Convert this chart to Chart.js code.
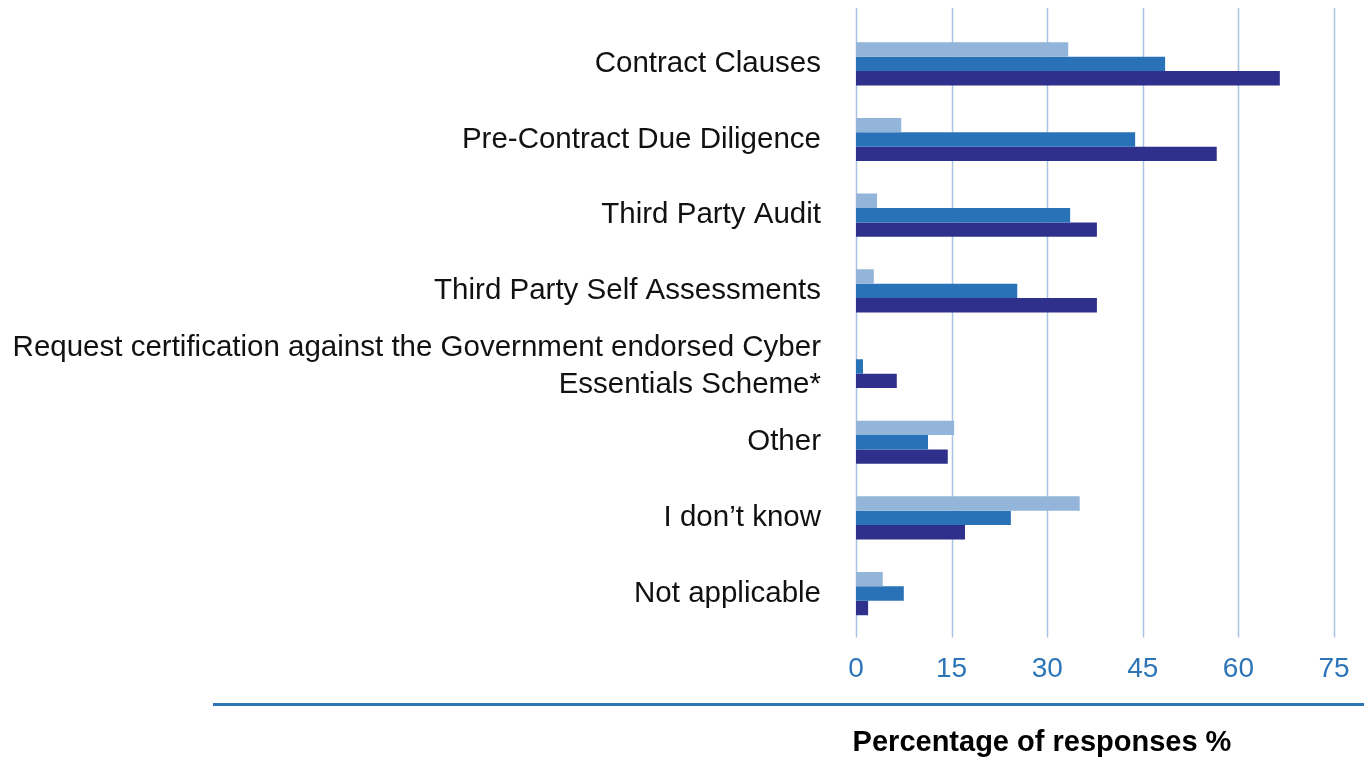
<!DOCTYPE html>
<html>
<head>
<meta charset="utf-8">
<script src="https://cdn.jsdelivr.net/npm/chart.js@4.4.1/dist/chart.umd.min.js"></script>
<style>
  html, body { margin: 0; padding: 0; background: #fff; }
  #wrap { width: 1364px; height: 758px; position: relative; }
</style>
</head>
<body>
<div id="wrap"><canvas id="chart"></canvas></div>
<script>
// ── Data ──────────────────────────────────────────────────────────────────────

const categories = [
  'Contract Clauses',
  'Pre-Contract Due Diligence',
  'Third Party Audit',
  'Third Party Self Assessments',
  ['Request certification against the Government endorsed Cyber', 'Essentials Scheme*'],
  'Other',
  'I don’t know',
  'Not applicable',
];

const series1 = [33.3, 7.1, 3.3, 2.8, 0, 15.4, 35.1, 4.2];
const series2 = [48.5, 43.8, 33.6, 25.3, 1.1, 11.3, 24.3, 7.5];
const series3 = [66.5, 56.6, 37.8, 37.8, 6.4, 14.4, 17.1, 1.9];

const xTicks = [0, 15, 30, 45, 60, 75];
const axisTitle = 'Percentage of responses %';

// ── Colours ───────────────────────────────────────────────────────────────────

const LIGHT = '#93b5da';
const MID = '#2a72b8';
const DARK = '#2f308b';
const GRID = '#a9c4e2';
const TICK_BLUE = '#2e75b8';
const FONT = '"Liberation Sans", Arial, sans-serif';

// ── Plugins ───────────────────────────────────────────────────────────────────

// vertical grid lines run a little past the plot area, top and bottom
const gridPlugin = {
  id: 'gridLines',
  beforeDatasetsDraw(chart) {
    const { ctx, chartArea, scales } = chart;
    ctx.save();
    ctx.strokeStyle = GRID;
    ctx.lineWidth = 1.5;
    xTicks.forEach((v) => {
      const x = Math.round(scales.x.getPixelForValue(v)) + 0.5;
      ctx.beginPath();
      ctx.moveTo(x, chartArea.top - 18);
      ctx.lineTo(x, chartArea.bottom + 6);
      ctx.stroke();
    });
    ctx.restore();
  },
};

// rule under the axis and the bold caption below it
const footerPlugin = {
  id: 'footer',
  afterDraw(chart) {
    const { ctx, width } = chart;
    ctx.save();
    ctx.fillStyle = TICK_BLUE;
    ctx.fillRect(213, 703, width - 213, 3);
    ctx.fillStyle = '#000';
    ctx.font = 'bold 29px ' + FONT;
    ctx.textAlign = 'center';
    ctx.textBaseline = 'middle';
    ctx.fillText(axisTitle, 1042, 743);
    ctx.restore();
  },
};

// ── Chart ─────────────────────────────────────────────────────────────────────

const makeSet = (label, data, color) => ({
  label,
  data,
  backgroundColor: color,
  borderWidth: 0,
  barPercentage: 1,
  categoryPercentage: 0.57,
});

new Chart(document.getElementById('chart'), {
  type: 'bar',
  data: {
    labels: categories,
    datasets: [
      makeSet('Series 1', series1, LIGHT),
      makeSet('Series 2', series2, MID),
      makeSet('Series 3', series3, DARK),
    ],
  },
  plugins: [gridPlugin, footerPlugin],
  options: {
    indexAxis: 'y',
    responsive: true,
    maintainAspectRatio: false,
    animation: false,
    layout: { padding: { top: 26, right: 30, bottom: 51, left: 0 } },
    plugins: {
      legend: { display: false },
      tooltip: { enabled: false },
    },
    scales: {
      x: {
        min: 0,
        max: 75,
        afterBuildTicks: (scale) => { scale.ticks = xTicks.map((v) => ({ value: v })); },
        afterFit: (scale) => { scale.paddingLeft = 0; scale.paddingRight = 0; },
        grid: { display: false, drawTicks: false },
        border: { display: false },
        ticks: {
          color: TICK_BLUE,
          padding: 21,
          maxRotation: 0,
          font: { family: FONT, size: 28 },
        },
      },
      y: {
        grid: { display: false, drawTicks: false },
        border: { display: false },
        afterFit: (scale) => {
          scale.width = 856;
          scale.paddingTop = 0;
          scale.paddingBottom = 0;
        },
        ticks: {
          color: '#111',
          padding: 35,
          autoSkip: false,
          font: { family: FONT, size: 29.5, lineHeight: 1.26 },
        },
      },
    },
  },
});
</script>
</body>
</html>
